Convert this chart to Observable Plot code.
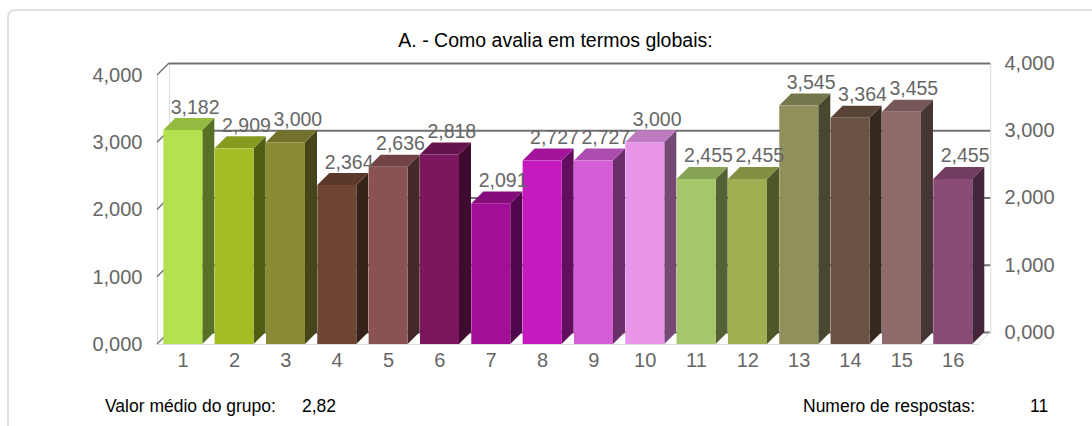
<!DOCTYPE html>
<html><head><meta charset="utf-8">
<script src="https://cdn.jsdelivr.net/npm/d3@7"></script>
<script src="https://cdn.jsdelivr.net/npm/@observablehq/plot@0.6"></script>
<style>
body{margin:0;background:#fff;font-family:"Liberation Sans",Arial,sans-serif;overflow:hidden;}
#frame{position:absolute;left:7px;top:9px;width:1110px;height:440px;border:2px solid #e2e2e2;border-radius:8px;box-sizing:border-box;}
#title{position:absolute;left:0;width:1111px;top:30px;line-height:20px;text-align:center;font-size:19.5px;color:#000;}
#chart{position:absolute;left:0;top:0;}
.foot{position:absolute;top:395.5px;line-height:20px;font-size:17.5px;color:#000;white-space:nowrap;}
</style></head><body>
<div id="frame"></div>
<div id="title"></div>
<div id="chart"></div>
<div class="foot" id="f1" style="left:105px"></div>
<div class="foot" id="f2" style="left:302px"></div>
<div class="foot" id="f3" style="left:803px"></div>
<div class="foot" id="f4" style="left:1030px"></div>
<script>
// ---- data ----
const categories = ["1","2","3","4","5","6","7","8","9","10","11","12","13","14","15","16"];
const values = [3.182, 2.909, 3.000, 2.364, 2.636, 2.818, 2.091, 2.727, 2.727, 3.000, 2.455, 2.455, 3.545, 3.364, 3.455, 2.455];
const barColors = ["#b2e34e","#a3bd25","#8b8b35","#6e4533","#8b5254","#7c165e","#a20e96","#c51abd",
                   "#d45ed6","#e895ea","#a6c66a","#9fae50","#8f905c","#6c5242","#8f6b6b","#8a4a76"];
const yTicks = [0, 1, 2, 3, 4];
const titleText = "A. - Como avalia em termos globais:";
const meanLabel = "Valor médio do grupo:";
const meanValue = "2,82";
const countLabel = "Numero de respostas:";
const countValue = "11";

document.getElementById("title").textContent = titleText;
document.getElementById("f1").textContent = meanLabel;
document.getElementById("f2").textContent = meanValue;
document.getElementById("f3").textContent = countLabel;
document.getElementById("f4").textContent = countValue;

const data = categories.map((c, i) => ({cat: c, value: values[i]}));
const fmt = d => d.toFixed(3).replace(".", ",");

const D = 12;          // 3D depth (px)
const insL = 6.3, insR = 6;
const W = 1092, H = 380;
const mL = 157, mR = W - 978.3, mT = 75, mB = H - 344;
const light = "#dcdcdc", grid = "#727272";

function bwOf(x) {
  return typeof x.bandwidth === "function" ? x.bandwidth() : x.bandwidth;
}

// top and side faces of 3D bars
function faces(index, scales) {
  const {x, y, color} = scales;
  const bw = bwOf(x);
  const g = d3.create("svg:g");
  for (const d of data) {
    const x0 = x(d.cat) + insL, x1 = x(d.cat) + bw - insR;
    const yt = y(d.value), yb = y(0);
    const c = d3.color(color(d.cat));
    g.append("path")
      .attr("d", `M${x1},${yb}L${x1 + D},${yb - D}L${x1 + D},${yt - D}L${x1},${yt}Z`)
      .attr("fill", c.darker(1.95).formatHex());
    g.append("path")
      .attr("d", `M${x0},${yt}L${x0 + D},${yt - D}L${x1 + D},${yt - D}L${x1},${yt}Z`)
      .attr("fill", c.darker(0.55).formatHex());
  }
  return g.node();
}

// diagonal ticks on left, floor diagonal on right
function diagonals(index, scales, values, dims) {
  const {y} = scales;
  const g = d3.create("svg:g");
  for (const t of yTicks) {
    g.append("line").attr("x1", dims.marginLeft).attr("y1", y(t))
      .attr("x2", dims.marginLeft + D).attr("y2", y(t) - D)
      .attr("stroke", grid).attr("stroke-width", 1.5);
  }
  const xr = dims.width - dims.marginRight;
  g.append("line").attr("x1", xr).attr("y1", y(0)).attr("x2", xr + D).attr("y2", y(0) - D)
    .attr("stroke", light).attr("stroke-width", 1);
  return g.node();
}

const chart = Plot.plot({
  width: W, height: H,
  marginLeft: mL, marginRight: mR, marginTop: mT, marginBottom: mB,
  style: {fontFamily: "'Liberation Sans', Arial, sans-serif", background: "transparent"},
  x: {type: "band", domain: categories, padding: 0, round: false},
  y: {domain: [0, 4]},
  color: {type: "ordinal", domain: categories, range: barColors},
  marks: [
    Plot.frame({anchor: "left", stroke: light, dx: D, dy: -D}),
    Plot.frame({anchor: "right", stroke: light, dx: D, dy: -D}),
    Plot.ruleY(yTicks, {dx: D, dy: -D, stroke: grid, strokeWidth: 2}),
    Plot.frame({anchor: "left", stroke: light}),
    Plot.frame({anchor: "bottom", stroke: light}),
    diagonals,
    faces,
    Plot.barY(data, {x: "cat", y: "value", fill: "cat", insetLeft: insL, insetRight: insR}),
    Plot.text(data, {x: "cat", y: "value", text: d => fmt(d.value), dx: D, dy: -D - 5,
      lineAnchor: "bottom", fontSize: 19.5, fill: "#666"}),
    Plot.axisY(yTicks, {anchor: "left", tickSize: 0, tickPadding: 15, tickFormat: fmt,
      fontSize: 20, fill: "#666", label: null}),
    Plot.axisY(yTicks, {anchor: "right", tickSize: 0, tickPadding: 25.7, tickFormat: fmt,
      dy: -D, fontSize: 20, fill: "#666", label: null}),
    Plot.axisX({tickSize: 0, tickPadding: 8, fontSize: 20, fill: "#666", label: null})
  ]
});
document.getElementById("chart").appendChild(chart);
</script>
</body></html>
